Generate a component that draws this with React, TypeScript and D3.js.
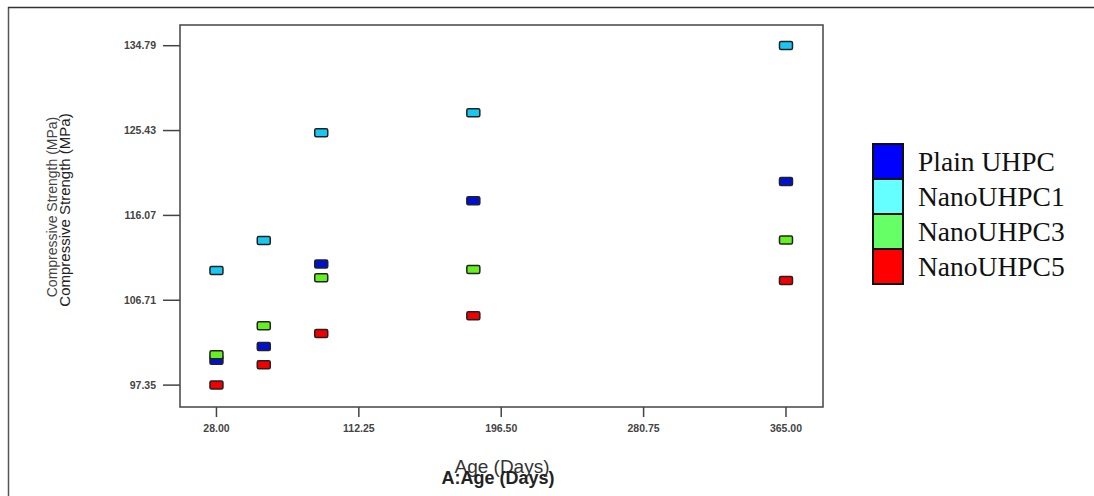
import * as d3 from "d3";

const ages = [28, 56, 90, 180, 365];
const xTicks = [28, 112.25, 196.5, 280.75, 365];
const yTicks = [97.35, 106.71, 116.07, 125.43, 134.79];

const seriesNames = ["Plain UHPC", "NanoUHPC1", "NanoUHPC3", "NanoUHPC5"];
const plainUHPC = [100.1, 101.6, 110.7, 117.7, 119.8];
const nanoUHPC1 = [110.0, 113.3, 125.2, 127.4, 134.8];
const nanoUHPC3 = [100.7, 103.9, 109.2, 110.1, 113.35];
const nanoUHPC5 = [97.35, 99.6, 103.05, 105.0, 108.9];

const pointColors = ["#0010d0", "#18c8f0", "#66f020", "#f00000"];
const legendColors = ["#0000ff", "#66ffff", "#66ff66", "#ff0000"];

export default function App() {
  const W = 1094;
  const H = 496;
  const plot = { left: 180, top: 25, right: 823, bottom: 407 };

  const xr = 365 - 28;
  const yr = 134.79 - 97.35;
  const x = d3
    .scaleLinear()
    .domain([28 - xr * 0.064, 365 + xr * 0.065])
    .range([plot.left, plot.right]);
  const y = d3
    .scaleLinear()
    .domain([97.35 - yr * 0.0645, 134.79 + yr * 0.061])
    .range([plot.bottom, plot.top]);

  const allSeries = [plainUHPC, nanoUHPC1, nanoUHPC3, nanoUHPC5];
  const pw = 13;
  const ph = 8;

  // legend block
  const lg = { x: 873, y: 144, w: 30, h: 35 };

  return (
    <div style={{ position: "absolute", left: 0, top: 0 }}>
      <svg width={W} height={H} style={{ display: "block", background: "#fff" }}>
        {/* outer frame */}
        <line x1={8.5} y1={7} x2={8.5} y2={H} stroke="#555" strokeWidth={1.5} />
        <line x1={8} y1={7.5} x2={W} y2={7.5} stroke="#333" strokeWidth={1.5} />

        {/* plot frame */}
        <rect
          x={plot.left}
          y={plot.top}
          width={plot.right - plot.left}
          height={plot.bottom - plot.top}
          fill="#fff"
          stroke="#444"
          strokeWidth={1.5}
        />

        {/* y axis */}
        {yTicks.map((t) => (
          <g key={"y" + t}>
            <line x1={163} x2={plot.left} y1={y(t)} y2={y(t)} stroke="#444" strokeWidth={1.5} />
            <text
              x={156}
              y={y(t)}
              dy="0.35em"
              textAnchor="end"
              fontFamily="Arial, Liberation Sans, sans-serif"
              fontSize={10.5}
              fontWeight="bold"
              fill="#444"
            >
              {t.toFixed(2)}
            </text>
          </g>
        ))}

        {/* x axis */}
        {xTicks.map((t) => (
          <g key={"x" + t}>
            <line x1={x(t)} x2={x(t)} y1={plot.bottom} y2={417} stroke="#444" strokeWidth={1.5} />
            <text
              x={x(t)}
              y={432}
              textAnchor="middle"
              fontFamily="Arial, Liberation Sans, sans-serif"
              fontSize={10.5}
              fontWeight="bold"
              fill="#444"
            >
              {t.toFixed(2)}
            </text>
          </g>
        ))}

        {/* points */}
        {allSeries.map((vals, si) =>
          vals.map((v, i) => (
            <rect
              key={si + "-" + i}
              x={x(ages[i]) - pw / 2}
              y={y(v) - ph / 2}
              width={pw}
              height={ph}
              rx={1.5}
              fill={pointColors[si]}
              stroke="#222"
              strokeWidth={1.5}
            />
          ))
        )}

        {/* axis titles */}
        <text
          transform="translate(57,207) rotate(-90)"
          textAnchor="middle"
          fontFamily="Arial, Liberation Sans, sans-serif"
          fontSize={14}
          fill="#444"
        >
          Compressive Strength (MPa)
        </text>
        <text
          transform="translate(69.5,210) rotate(-90)"
          textAnchor="middle"
          fontFamily="Arial, Liberation Sans, sans-serif"
          fontSize={15}
          fill="#222"
        >
          Compressive Strength (MPa)
        </text>
        <text
          x={502}
          y={473}
          textAnchor="middle"
          fontFamily="Arial, Liberation Sans, sans-serif"
          fontSize={19}
          fill="#333"
        >
          Age (Days)
        </text>
        <text
          x={498}
          y={484}
          textAnchor="middle"
          fontFamily="Arial, Liberation Sans, sans-serif"
          fontSize={18}
          fontWeight="bold"
          fill="#222"
        >
          A:Age (Days)
        </text>

        {/* legend */}
        {seriesNames.map((name, i) => (
          <g key={name}>
            <rect
              x={lg.x}
              y={lg.y + i * lg.h}
              width={lg.w}
              height={lg.h}
              fill={legendColors[i]}
              stroke="#111"
              strokeWidth={2}
            />
            <text
              x={918}
              y={lg.y + i * lg.h + lg.h / 2}
              dy="0.35em"
              fontFamily="Times New Roman, Liberation Serif, serif"
              fontSize={27.5}
              fill="#111"
            >
              {name}
            </text>
          </g>
        ))}
      </svg>
    </div>
  );
}
